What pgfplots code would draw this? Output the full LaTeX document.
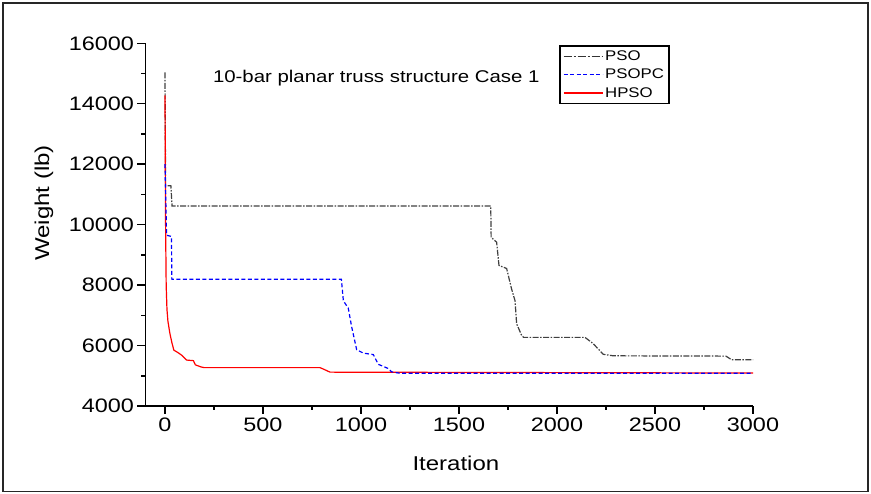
\documentclass[border=0pt]{standalone}
\usepackage{fontspec}
\setmainfont{Liberation Sans}[FakeStretch=1.2]
\usepackage{pgfplots}
\pgfplotsset{compat=1.18}
\begin{document}
\begin{tikzpicture}
\useasboundingbox (0pt,0pt) rectangle (871pt,494pt);
\draw[line width=1.6pt, black!85] (3pt,2.5pt) rectangle (868pt,491pt);
\begin{axis}[
  at={(145.4pt,88pt)}, anchor=south west,
  scale only axis, width=607.6pt, height=362.7pt,
  xmin=-100, xmax=3000, ymin=4000, ymax=16000,
  axis x line*=bottom, axis y line*=left,
  axis line style={line width=1.5pt, -},
  xtick={0,500,...,3000}, ytick={4000,6000,...,16000},
  minor x tick num=1, minor y tick num=1,
  tick align=outside, major tick length=8pt, minor tick length=4pt,
  every tick/.style={black, line width=1.5pt},
  ticklabel style={font=\fontsize{19.5}{22}\selectfont},
  /pgf/number format/assume math mode=true,
  /pgf/number format/set thousands separator={},
  scaled ticks=false,
  xlabel={Iteration}, ylabel={Weight (lb)},
  label style={font=\fontsize{20}{24}\selectfont},
  xlabel style={at={(axis description cs:0.511,-0.157)}, anchor=center},
  ylabel style={at={(axis description cs:-0.167,0.56)}, anchor=center},
  legend style={at={(axis description cs:0.681,0.995)}, anchor=north west,
    draw=black, line width=1.5pt, font=\fontsize{14}{16}\selectfont,
    row sep=3pt, inner sep=3pt, cells={anchor=west}},
  legend image code/.code={\draw[#1] (0pt,0pt) -- (39pt,0pt);},
  clip=false,
]
\addlegendimage{black!80, line width=1.2pt, dash pattern=on 8pt off 2pt on 2pt off 2pt}
\addlegendentry{PSO}
\addlegendimage{blue, line width=1.2pt, dash pattern=on 4pt off 2.5pt}
\addlegendentry{PSOPC}
\addlegendimage{red, line width=1.2pt}
\addlegendentry{HPSO}

% PSO
\addplot[forget plot, black!75, line width=1.2pt, dash pattern=on 6pt off 1.5pt on 1.5pt off 1.5pt] coordinates {
(0,15040) (3,11290) (30,11290) (36,10620) (1662,10620) (1664,9580) (1692,9420) (1704,8650)
(1743,8550) (1768,7880) (1786,7480) (1794,6720) (1820,6330) (1830,6270) (2143,6270)
(2185,6060) (2236,5710) (2287,5660) (2862,5650) (2891,5530) (3000,5530)
};
% HPSO
\addplot[forget plot, red, line width=1.2pt] coordinates {
(0,14280) (3,10000) (6,8000) (10,7200) (15,6800) (25,6400) (35,6100) (45,5850)
(70,5750) (85,5680) (110,5520) (145,5500) (155,5360) (185,5290) (200,5270)
(790,5270) (805,5230) (842,5120) (3000,5090)
};
% PSOPC
\addplot[forget plot, blue, line width=1.2pt, dash pattern=on 4pt off 2.5pt] coordinates {
(0,12000) (8,9650) (33,9610) (35,8190) (900,8190) (910,7480) (935,7240) (952,6630)
(978,5860) (1012,5750) (1063,5700) (1088,5380) (1139,5240) (1156,5130) (1200,5080) (3000,5080)
};
\node[font=\fontsize{17}{20}\selectfont] at (axis description cs:0.38,0.904) {10-bar planar truss structure Case 1};
\end{axis}
\end{tikzpicture}
\end{document}
